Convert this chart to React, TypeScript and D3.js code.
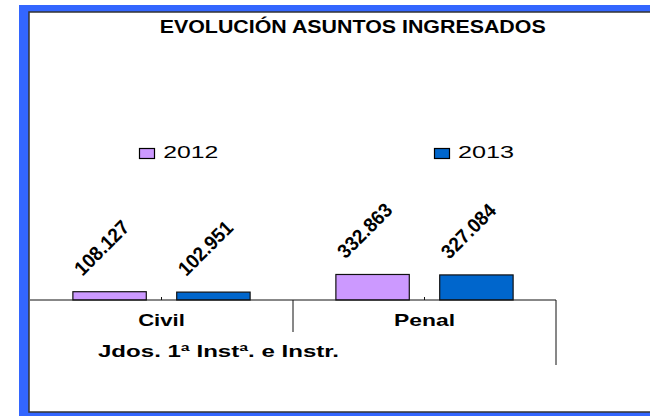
import * as d3 from 'd3'

// Chart data
const CATEGORIES = ['Civil', 'Penal']
const SERIES = ['2012', '2013']
const VALUES_2012 = [108127, 332863]
const VALUES_2013 = [102951, 327084]
const LABELS_2012 = ['108.127', '332.863']
const LABELS_2013 = ['102.951', '327.084']
const GROUP_LABEL = 'Jdos. 1ª Instª. e Instr.'
const TITLE = 'EVOLUCIÓN ASUNTOS INGRESADOS'

const COLORS: Record<string, string> = { '2012': '#CC99FF', '2013': '#0066CC' }

const W = 650
const H = 416
const FONT = '"Liberation Sans", Arial, sans-serif'

export default function App() {
  const x0 = d3.scaleBand<string>().domain(CATEGORIES).range([30, 556]).padding(0)
  const x1 = d3.scaleBand<string>()
    .domain(SERIES)
    .range([0, x0.bandwidth()])
    .paddingInner(0.293)
    .paddingOuter(0.413)
  const y = d3.scaleLinear().domain([0, 3600000]).range([300, 24])

  const rows = CATEGORIES.flatMap((c, i) => [
    { cat: c, s: '2012', v: VALUES_2012[i], label: LABELS_2012[i] },
    { cat: c, s: '2013', v: VALUES_2013[i], label: LABELS_2013[i] },
  ])

  const base = y(0)
  const lastCat = CATEGORIES[CATEGORIES.length - 1]
  const axisEnd = (x0(lastCat) ?? 0) + x0.bandwidth()

  return (
    <svg width={W} height={H} style={{ position: 'absolute', left: 0, top: 0, display: 'block' }}
      fontFamily={FONT}>
      {/* frame */}
      <rect x={19} y={5} width={W} height={H} fill="#3366FF" />
      <rect x={29} y={12} width={W} height={400} fill="#ffffff" stroke="#333" strokeWidth={1.5} />

      <text x={352.7} y={33.3} textAnchor="middle" fontSize={17.5} fontWeight="bold" fill="#000"
        textLength={386} lengthAdjust="spacingAndGlyphs">{TITLE}</text>

      {/* legend */}
      <rect x={139.5} y={148.5} width={15} height={10} fill={COLORS['2012']} stroke="#000" strokeWidth={1.2} />
      <text x={163.3} y={157.5} fontSize={16} fill="#000" textLength={55}
        lengthAdjust="spacingAndGlyphs">2012</text>
      <rect x={434.5} y={148.5} width={15} height={10} fill={COLORS['2013']} stroke="#000" strokeWidth={1.2} />
      <text x={458} y={157.5} fontSize={16} fill="#000" textLength={56}
        lengthAdjust="spacingAndGlyphs">2013</text>

      {/* bars */}
      {rows.map(r => {
        const bx = (x0(r.cat) ?? 0) + (x1(r.s) ?? 0)
        const top = y(r.v)
        return (
          <rect key={r.cat + r.s} x={bx} y={top} width={x1.bandwidth()} height={base - top}
            fill={COLORS[r.s]} stroke="#111" strokeWidth={1.2} />
        )
      })}

      {/* value labels */}
      {rows.map(r => {
        const cx = (x0(r.cat) ?? 0) + (x1(r.s) ?? 0) + x1.bandwidth() / 2 - 8
        const cy = y(r.v) - 44
        return (
          <text key={'l' + r.cat + r.s} transform={`translate(${cx},${cy}) rotate(-45)`}
            textAnchor="middle" dominantBaseline="central" fontSize={20} fontWeight="bold" fill="#000"
            textLength={68} lengthAdjust="spacingAndGlyphs">{r.label}</text>
        )
      })}

      {/* category axis */}
      <line x1={30} x2={axisEnd} y1={base} y2={base} stroke="#111" strokeWidth={1} />
      {CATEGORIES.map(c => {
        const cx = (x0(c) ?? 0) + x0.bandwidth() / 2
        return (
          <g key={'t' + c}>
            <line x1={cx} x2={cx} y1={base - 3} y2={base} stroke="#111" strokeWidth={1} />
            <text x={cx} y={325.7} textAnchor="middle" fontSize={17} fontWeight="bold" fill="#000"
              textLength={c === 'Civil' ? 46.7 : 61} lengthAdjust="spacingAndGlyphs">{c}</text>
          </g>
        )
      })}
      {CATEGORIES.slice(1).map(c => (
        <line key={'d' + c} x1={x0(c)} x2={x0(c)} y1={base} y2={332} stroke="#111" strokeWidth={1} />
      ))}
      <line x1={axisEnd} x2={axisEnd} y1={base} y2={365} stroke="#111" strokeWidth={1} />
      <text x={98} y={356.7} fontSize={16.5} fontWeight="bold" fill="#000" textLength={241}
        lengthAdjust="spacingAndGlyphs">{GROUP_LABEL}</text>
    </svg>
  )
}
